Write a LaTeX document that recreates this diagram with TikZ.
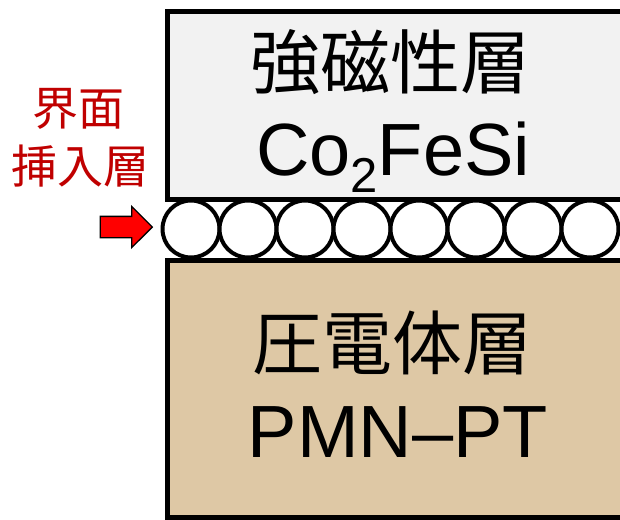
\documentclass[tikz,border=0pt]{standalone}
\usepackage{fontspec}
\setmainfont{Liberation Sans}
\newfontfamily\jpfont{Noto Sans CJK JP}
\usetikzlibrary{shapes.arrows}
\definecolor{topfill}{HTML}{F2F2F2}
\definecolor{botfill}{HTML}{DEC8A5}
\definecolor{labelred}{HTML}{C00000}
\tikzset{
  layerbox/.style={draw=black, line width=5pt, rectangle, inner sep=0pt, anchor=north west},
  atom/.style={circle, draw=black, fill=white, line width=4pt, minimum size=57pt, inner sep=0pt},
  bigjp/.style={font=\jpfont\fontsize{70}{70}\selectfont, inner sep=0pt},
  biglat/.style={font=\fontsize{74}{74}\selectfont, inner sep=0pt, anchor=base},
  redlabel/.style={font=\jpfont\fontsize{46}{46}\selectfont, text=labelred, inner sep=0pt},
  redarrow/.style={single arrow, draw=black, fill=red, line width=1.3pt, minimum height=52pt,
    single arrow head extend=10pt, inner sep=10pt, shape border rotate=0}
}
\begin{document}
\begin{tikzpicture}[x=1pt,y=-1pt]
\useasboundingbox (0,0) rectangle (620,519);
\clip (0,0) rectangle (620,519);
\fill[white] (0,0) rectangle (620,519);
% interface atoms
\foreach \i in {0,...,7}{
  \node[atom] (c\i) at ({191+57*\i},229) {};
}
% layers
\node[layerbox, fill=topfill, minimum width=480pt, minimum height=188pt] (top) at (165,9) {};
\node[layerbox, fill=botfill, minimum width=480pt, minimum height=257pt] (bot) at (165,258) {};
% texts
\node[bigjp] (t1) at (390,62) {強磁性層};
\node[biglat] (t2) at (393,175) {Co\raisebox{-17pt}{\fontsize{49}{49}\selectfont 2}FeSi};
\node[bigjp] (b1) at (392,343) {圧電体層};
\node[biglat] (b2) at (398,457) {PMN–PT};
% label
\node[redlabel] (l1) at (78,109) {界面};
\node[redlabel] (l2) at (80,166) {挿入層};
\node[redarrow] (arr) at (121,227) {};
\end{tikzpicture}
\end{document}
